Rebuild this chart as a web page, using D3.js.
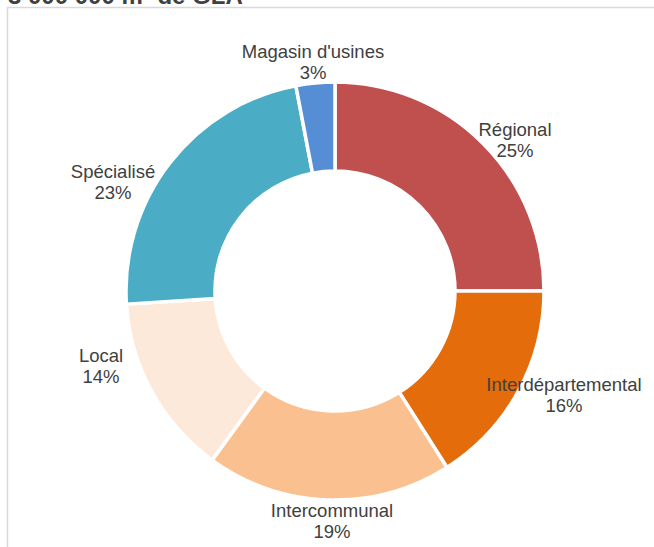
<!DOCTYPE html>
<html>
<head>
<meta charset="utf-8">
<script src="https://cdn.jsdelivr.net/npm/d3@7"></script>
<style>
  html, body { margin: 0; padding: 0; background: #fff; }
  svg { display: block; }
</style>
</head>
<body>
<svg id="chart" width="654" height="547"></svg>
<script>
// Répartition des surfaces par type de centre
const categories = ["Régional", "Interdépartemental", "Intercommunal", "Local", "Spécialisé", "Magasin d'usines"];
const shares = [25, 16, 19, 14, 23, 3];
const colors = ["#C0504D", "#E46C0A", "#FAC090", "#FDE9D9", "#4BACC6", "#558ED5"];
const title = "3 000 000 m² de GLA";

// Label anchor points (first-line baseline), as offsets from the donut centre
const labelOffsets = [
  [180, -155], [229, 100], [-3, 226], [-234, 71], [-222, -113], [-22, -233]
];

const svg = d3.select("#chart");
const cx = 335, cy = 291;
const outerR = 209, innerR = 120;

// Chart area frame
svg.append("rect")
  .attr("x", 7.5).attr("y", 7.5)
  .attr("width", 700).attr("height", 600)
  .attr("fill", "#fff")
  .attr("stroke", "#d9d9d9")
  .attr("stroke-width", 1.5);

// Title, partly clipped by the top edge
svg.append("text")
  .attr("x", 8).attr("y", 4)
  .attr("font-family", "Liberation Sans, Arial, sans-serif")
  .attr("font-weight", "bold")
  .attr("font-size", 24)
  .attr("fill", "#404040")
  .text(title);

const data = categories.map((c, i) => ({ name: c, value: shares[i], color: colors[i], off: labelOffsets[i] }));

const pie = d3.pie().sort(null).value(d => d.value);
const arc = d3.arc().innerRadius(innerR).outerRadius(outerR);

const g = svg.append("g").attr("transform", `translate(${cx},${cy})`);

g.selectAll("path.slice")
  .data(pie(data))
  .join("path")
  .attr("class", "slice")
  .attr("d", arc)
  .attr("fill", d => d.data.color)
  .attr("stroke", "#fff")
  .attr("stroke-width", 3.5)
  .attr("stroke-linejoin", "miter");

const labels = g.selectAll("text.lbl")
  .data(pie(data))
  .join("text")
  .attr("class", "lbl")
  .attr("text-anchor", "middle")
  .attr("font-family", "Liberation Sans, Arial, sans-serif")
  .attr("font-size", 18.5)
  .attr("fill", "#404040")
  .attr("transform", d => `translate(${d.data.off[0]},${d.data.off[1]})`);

labels.append("tspan")
  .attr("x", 0).attr("dy", 0)
  .text(d => d.data.name);
labels.append("tspan")
  .attr("x", 0).attr("dy", 21)
  .text(d => d3.format(".0f")(d.data.value) + "%");
</script>
</body>
</html>
